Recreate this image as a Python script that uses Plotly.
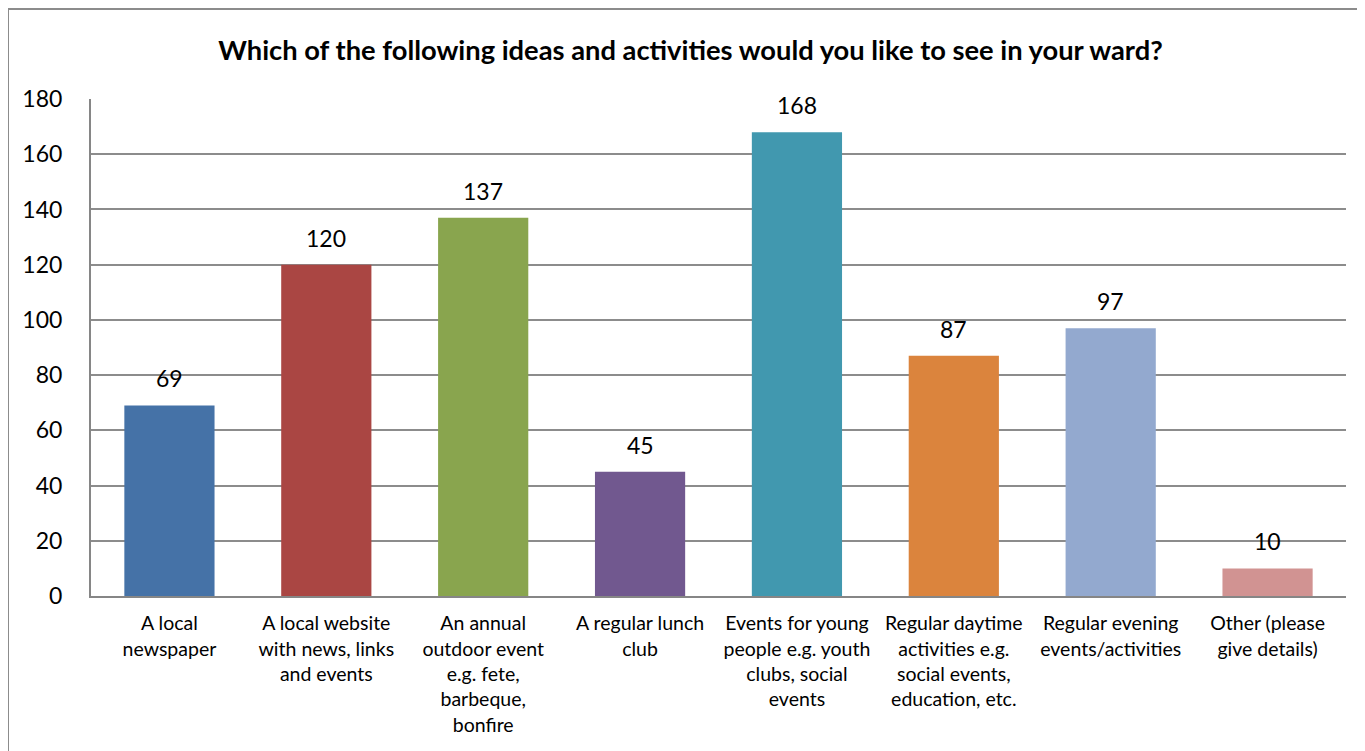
import plotly.graph_objects as go

categories = [
    "A local<br>newspaper",
    "A local website<br>with news, links<br>and events",
    "An annual<br>outdoor event<br>e.g. fete,<br>barbeque,<br>bonfire",
    "A regular lunch<br>club",
    "Events for young<br>people e.g. youth<br>clubs, social<br>events",
    "Regular daytime<br>activities e.g.<br>social events,<br>education, etc.",
    "Regular evening<br>events/activities",
    "Other (please<br>give details)",
]
values = [69, 120, 137, 45, 168, 87, 97, 10]
colors = ["#4572A7", "#AA4643", "#89A54E", "#71588F", "#4198AF", "#DB843D", "#93A9CF", "#D19392"]
title = "Which of the following ideas and activities would you like to see in your ward?"

FONT = "Lato, 'Open Sans', sans-serif"

fig = go.Figure(go.Bar(
    x=categories, y=values,
    marker=dict(color=colors, line=dict(width=0)),
    width=0.575,
    hoverinfo="x+y",
))

for c, v in zip(categories, values):
    fig.add_annotation(x=c, y=v, text=str(v), showarrow=False, yanchor="bottom",
                       yshift=11, font=dict(size=23, family=FONT, color="#000000"))

W, H = 1365, 751
ml, mr, mt, mb = 83, 27, 91, 163
pw, ph = W - ml - mr, H - mt - mb

fig.update_layout(
    width=W, height=H,
    margin=dict(l=ml, r=mr, t=mt, b=mb, autoexpand=False),
    paper_bgcolor="white", plot_bgcolor="white",
    font=dict(family=FONT, color="#000000"),
    title=dict(text="<b>" + title + "</b>", x=0.5, xref="container", xanchor="center",
               y=1 - 42 / H, yref="container", yanchor="middle",
               font=dict(size=27.3, family=FONT, color="#000000")),
    showlegend=False,
    bargap=0.425,
    xaxis=dict(showline=True, linecolor="#868686", linewidth=2, showgrid=False,
               ticks="", tickfont=dict(size=19.5, family=FONT), tickangle=0,
               ticklabelstandoff=9),
    yaxis=dict(range=[0, 180], dtick=20, showline=True, linecolor="#868686", linewidth=2,
               showgrid=True, gridcolor="#8c8c8c", gridwidth=1.5, zeroline=False,
               ticks="", tickfont=dict(size=23, family=FONT), ticklabelstandoff=22),
    shapes=[dict(type="rect", xref="paper", yref="paper",
                 x0=(0 - ml) / pw, x1=(W + 30 - ml) / pw,
                 y0=-(H + 30 - mt - ph) / ph, y1=1 + (mt - 1) / ph,
                 line=dict(color="#8c8c8c", width=2), fillcolor="rgba(0,0,0,0)",
                 layer="below")],
)

fig.write_html("out.html")
